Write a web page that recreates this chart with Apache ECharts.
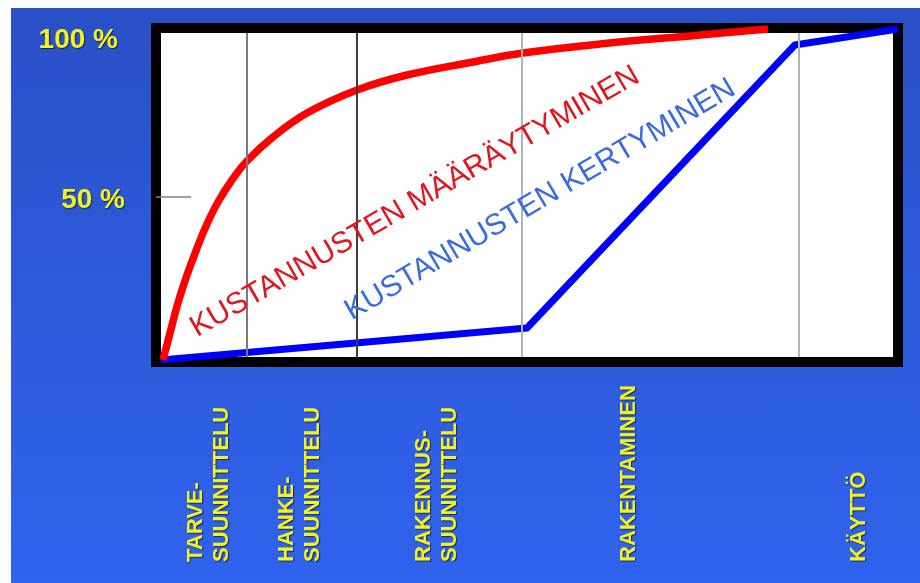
<!DOCTYPE html>
<html>
<head>
<meta charset="utf-8">
<script src="https://cdn.jsdelivr.net/npm/echarts@6/dist/echarts.min.js"></script>
<style>
  html, body { margin: 0; padding: 0; background: #ffffff; width: 920px; height: 583px; overflow: hidden; }
  #chart { position: absolute; left: 11px; top: 8px; width: 909px; height: 575px;
           background: linear-gradient(180deg, #2a50c6 0%, #2d5ada 50%, #3063ee 100%); }
</style>
</head>
<body>
<div id="chart"></div>
<script>
// Phase labels (x-axis) and their positions along the time axis (0..100)
const phaseLabels = ['TARVE-\nSUUNNITTELU', 'HANKE-\nSUUNNITTELU', 'RAKENNUS-\nSUUNNITTELU', 'RAKENTAMINEN', 'KÄYTTÖ'];
const phaseLabelPos = [7.1, 19.4, 37.8, 63.7, 94.7];
// Phase boundary lines
const phaseBounds = [12.26, 27.09, 49.33, 86.66];
const phaseBoundColors = ['#7a7a7a', '#3c3c3c', '#b4b4b4', '#b4b4b4'];
const boundLow = 1.5, boundHigh = 99.5;

// Y tick labels
const yTickValues = [50, 100];
const yTickLabels = ['50 %', '100 %'];

// Kustannusten määräytyminen (red curve): [x, y]
const redX = [0.94, 1.89, 2.96, 4.18, 5.53, 6.87, 8.36, 10.24, 12.26, 15.77, 20.35, 27.09, 33.83, 42.72, 49.46, 59.84, 73.32, 82.48];
const redY = [0.60, 8.77, 17.84, 26.31, 34.47, 41.73, 48.38, 55.03, 60.78, 68.04, 75.29, 82.25, 86.79, 90.72, 93.44, 96.16, 98.88, 100.70];

// Kustannusten kertyminen (blue line): [x, y]
const blueX = [0.67, 50.0, 86.1, 100.0];
const blueY = [0.6, 10.28, 95.86, 100.7];

// In-plot annotations
const redTitle = 'KUSTANNUSTEN MÄÄRÄYTYMINEN';
const redTitlePos = [34.9, 48.4];
const blueTitle = 'KUSTANNUSTEN KERTYMINEN';
const blueTitlePos = [51.8, 49.0];

const chart = echarts.init(document.getElementById('chart'), null, { renderer: 'canvas' });

const yellow = '#f4f41c';

const option = {
  backgroundColor: 'transparent',
  animation: false,
  grid: {
    left: 145, right: 22, top: 20, bottom: 221,
    show: true,
    backgroundColor: '#ffffff',
    borderColor: '#000000',
    borderWidth: 10
  },
  xAxis: {
    type: 'value', min: 0, max: 100,
    axisLine: { show: false }, axisTick: { show: false }, splitLine: { show: false },
    axisLabel: {
      customValues: phaseLabelPos,
      formatter: function (v) {
        const i = phaseLabelPos.indexOf(v);
        return i >= 0 ? phaseLabels[i] : '';
      },
      rotate: 90,
      align: 'left',
      verticalAlign: 'middle',
      margin: 200,
      color: yellow,
      fontFamily: 'Liberation Sans, Arial, sans-serif',
      fontWeight: 'bold',
      fontSize: 22,
      lineHeight: 26,
      textShadowColor: 'rgba(0,0,40,0.6)',
      textShadowBlur: 1,
      textShadowOffsetX: 1,
      textShadowOffsetY: 1,
      hideOverlap: false
    }
  },
  yAxis: {
    type: 'value', min: 0, max: 101,
    axisLine: { show: false },
    splitLine: { show: false },
    axisTick: {
      show: true, inside: true, length: 35,
      customValues: [50],
      lineStyle: { color: '#808080', width: 1.5 }
    },
    axisLabel: {
      customValues: yTickValues,
      margin: 31,
      color: yellow,
      fontFamily: 'Liberation Sans, Arial, sans-serif',
      fontWeight: 'bold',
      fontSize: 28,
      textShadowColor: 'rgba(0,0,40,0.6)',
      textShadowBlur: 1,
      textShadowOffsetX: 1,
      textShadowOffsetY: 1,
      formatter: function (v) {
        const i = yTickValues.indexOf(v);
        if (i < 0) return '';
        return (v === 100 ? '{a|' : '{b|') + yTickLabels[i] + '}';
      },
      rich: {
        a: { padding: [18, 7, 0, 0] },
        b: { padding: [8, 0, 0, 0] }
      }
    }
  },
  series: [
    {
      name: 'bounds',
      type: 'line',
      data: [],
      silent: true,
      markLine: {
        silent: true,
        symbol: ['none', 'none'],
        label: { show: false },
        data: phaseBounds.map(function (b, i) {
          return [
            { coord: [b, boundLow], lineStyle: { color: phaseBoundColors[i], width: 2, type: 'solid' } },
            { coord: [b, boundHigh] }
          ];
        })
      }
    },
    {
      name: 'Kustannusten kertyminen',
      type: 'line',
      clip: false,
      symbol: 'none',
      data: blueX.map(function (x, i) { return [x, blueY[i]]; }),
      lineStyle: { color: '#0000ff', width: 7, join: 'round' },
      markPoint: {
        symbol: 'circle', symbolSize: 0,
        data: [{ coord: blueTitlePos }],
        label: {
          show: true, position: 'inside', rotate: 30.5,
          formatter: blueTitle,
          color: '#3a6be0',
          fontFamily: 'Liberation Sans, Arial, sans-serif',
          fontSize: 30
        }
      },
      z: 3
    },
    {
      name: 'Kustannusten määräytyminen',
      type: 'line',
      clip: false,
      symbol: 'none',
      smooth: 0.4,
      data: redX.map(function (x, i) { return [x, redY[i]]; }),
      lineStyle: { color: '#ff0000', width: 7.5, join: 'round' },
      markPoint: {
        symbol: 'circle', symbolSize: 0,
        data: [{ coord: redTitlePos }],
        label: {
          show: true, position: 'inside', rotate: 30,
          formatter: redTitle,
          color: '#e2141e',
          fontFamily: 'Liberation Sans, Arial, sans-serif',
          fontSize: 30
        }
      },
      z: 4
    }
  ]
};

chart.setOption(option);
</script>
</body>
</html>
